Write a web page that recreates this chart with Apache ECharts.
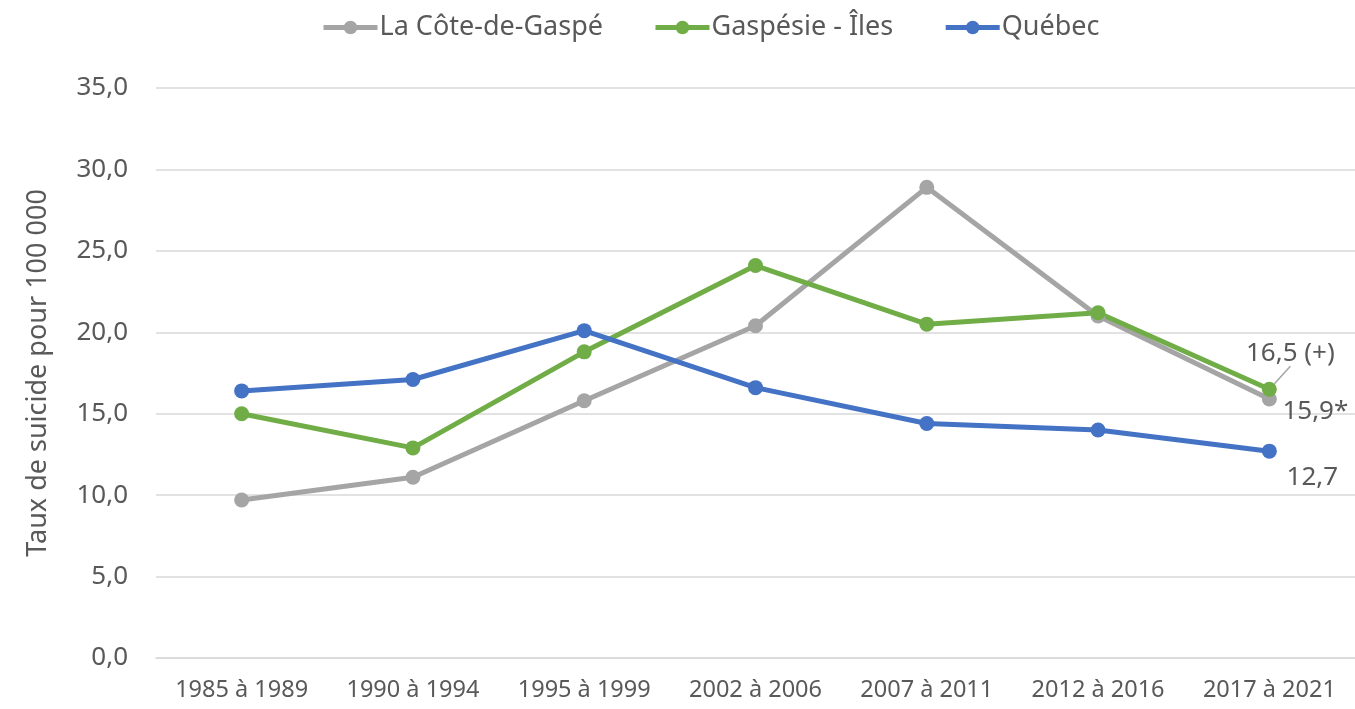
<!DOCTYPE html>
<html>
<head>
<meta charset="utf-8">
<script src="https://cdn.jsdelivr.net/npm/echarts@6/dist/echarts.min.js"></script>
<style>
  * { margin: 0; padding: 0; }
  html, body { width: 1355px; height: 709px; background: #fff; }
</style>
</head>
<body>
<div id="main" style="width:1355px;height:709px"></div>
<script>
// données
var periodes = ['1985 à 1989', '1990 à 1994', '1995 à 1999', '2002 à 2006', '2007 à 2011', '2012 à 2016', '2017 à 2021'];
var coteDeGaspe = [9.7, 11.1, 15.8, 20.4, 28.9, 21.0, 15.9];
var gaspesieIles = [15.0, 12.9, 18.8, 24.1, 20.5, 21.2, 16.5];
var quebec = [16.4, 17.1, 20.1, 16.6, 14.4, 14.0, 12.7];
var yTicks = [0, 5, 10, 15, 20, 25, 30, 35];

var txt = '#595959';
var font = 'Noto Sans';

// seule la dernière valeur a une étiquette
function withLastLabel(values, text, label) {
  return values.map(function (v, i) {
    if (i !== values.length - 1) return v;
    return {
      value: v,
      label: Object.assign({ show: true, formatter: text, color: txt, fontSize: 26, fontFamily: font, position: 'inside' }, label.label),
      labelLine: label.labelLine
    };
  });
}

function serie(name, color, data) {
  return {
    name: name,
    type: 'line',
    data: data,
    symbol: 'circle',
    symbolSize: 15,
    lineStyle: { width: 5, color: color },
    itemStyle: { color: color },
    emphasis: { disabled: true },
    animation: false
  };
}

var chart = echarts.init(document.getElementById('main'));
chart.setOption({
  textStyle: { fontFamily: font },
  legend: {
    top: 9,
    left: 316,
    itemWidth: 54,
    itemHeight: 17,
    itemGap: 50,
    lineStyle: { width: 5 },
    textStyle: { color: txt, fontSize: 27, fontFamily: font, padding: [0, 0, 0, -3] },
    data: ['La Côte-de-Gaspé', 'Gaspésie - Îles', 'Québec']
  },
  grid: { left: 156, right: 0, top: 88, bottom: 51, containLabel: false },
  xAxis: {
    type: 'category',
    data: periodes,
    axisLine: { lineStyle: { color: '#d9d9d9', width: 1.5 } },
    axisTick: { show: false },
    axisLabel: { color: txt, fontSize: 23.5, fontFamily: font, margin: 20, interval: 0 }
  },
  yAxis: {
    type: 'value',
    min: yTicks[0],
    max: yTicks[yTicks.length - 1],
    interval: 5,
    name: 'Taux de suicide pour 100 000',
    nameLocation: 'middle',
    nameGap: 104,
    nameTextStyle: { color: txt, fontSize: 27, fontFamily: font },
    axisLine: { show: false },
    axisTick: { show: false },
    splitLine: { lineStyle: { color: '#d9d9d9', width: 1.5 } },
    axisLabel: {
      color: txt, fontSize: 26, fontFamily: font, margin: 28,
      formatter: function (v) { return v.toFixed(1).replace('.', ','); }
    }
  },
  series: [
    serie('La Côte-de-Gaspé', '#a5a5a5', withLastLabel(coteDeGaspe, '15,9*', {
      label: { offset: [46, 13] }
    })),
    serie('Gaspésie - Îles', '#70ad47', withLastLabel(gaspesieIles, '16,5 (+)', {
      label: { offset: [21, -36] },
      labelLine: { show: true, lineStyle: { color: '#a5a5a5', width: 1.5 } }
    })),
    serie('Québec', '#4472c4', withLastLabel(quebec, '12,7', {
      label: { offset: [43, 26] }
    }))
  ]
});
</script>
</body>
</html>
